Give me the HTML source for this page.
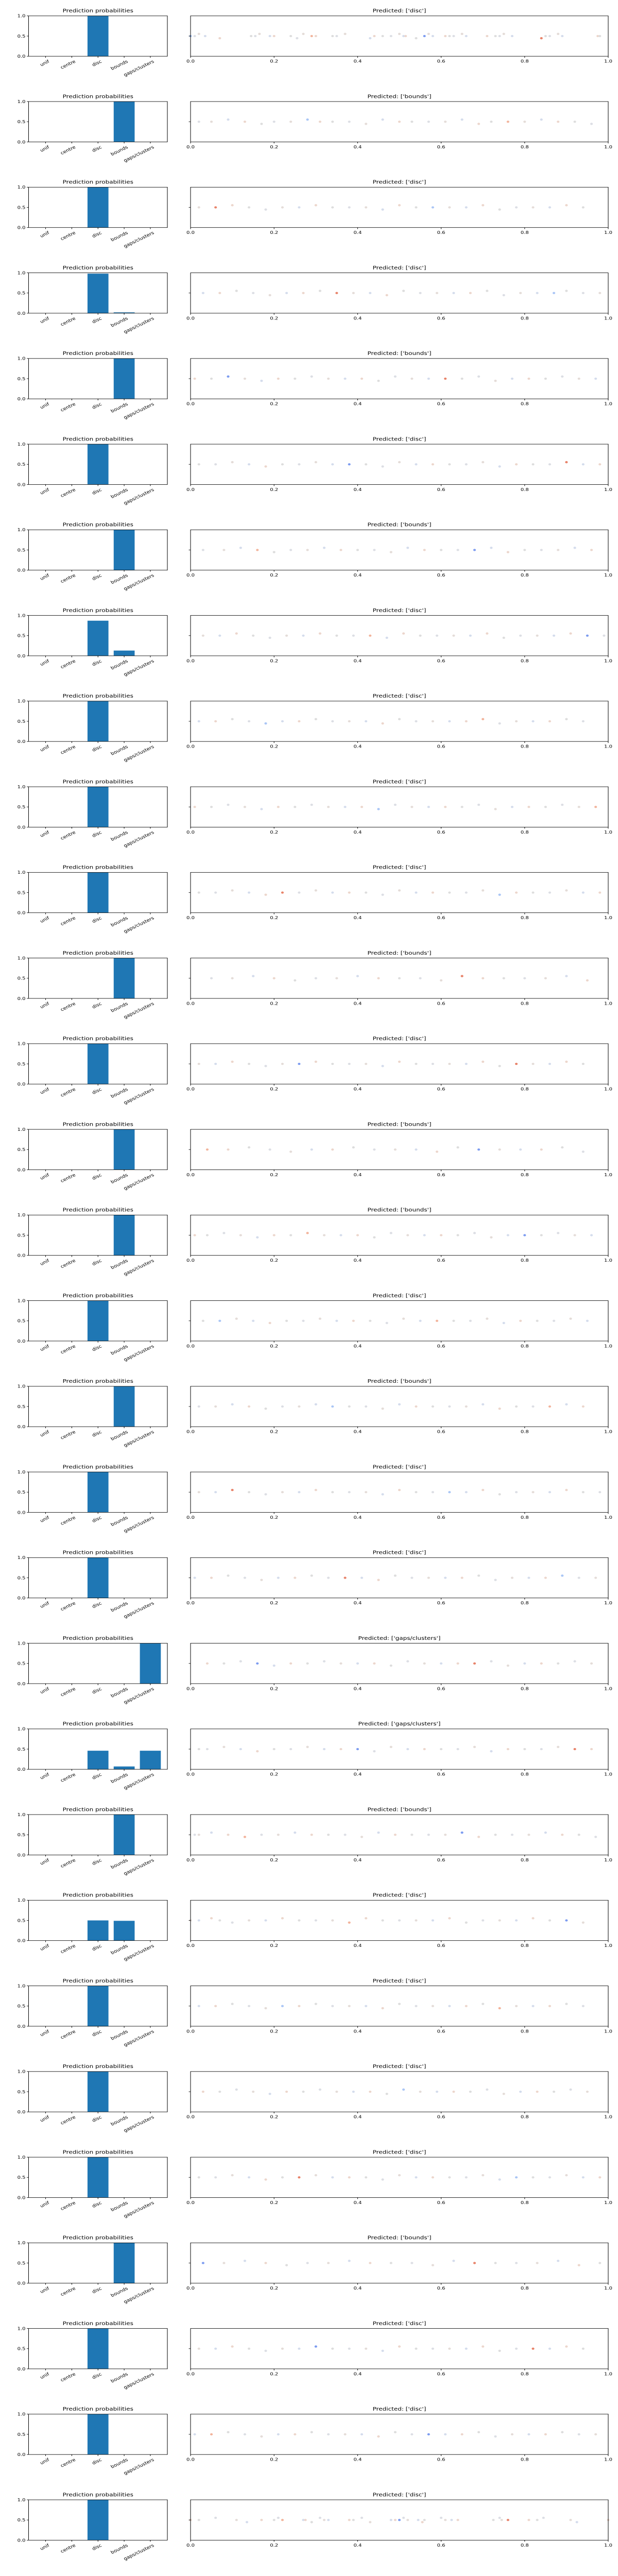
<!DOCTYPE html>
<html><head><meta charset="utf-8">
<style>
html,body{margin:0;padding:0;background:#fff;width:100%;height:100%;overflow:hidden;}
svg{display:block;position:fixed;left:0;top:0;width:100vw;height:100vh;font-family:"DejaVu Sans","Liberation Sans",sans-serif;}
</style></head>
<body>
<svg id="chart" viewBox="0 0 1200 6000" preserveAspectRatio="none" xmlns="http://www.w3.org/2000/svg"></svg>
<script>
const categories = ["unif","centre","disc","bounds","gaps/clusters"];
const predicted = ["disc","bounds","disc","disc","bounds","disc","bounds","disc","disc","disc",
  "disc","bounds","disc","bounds","bounds","disc","bounds","disc","disc","gaps/clusters",
  "gaps/clusters","bounds","disc","disc","disc","disc","bounds","disc","disc","disc"];
const probUnif   = [0,0,0,0,0,0,0,0,0,0, 0,0,0,0,0,0,0,0,0,0, 0,0,0,0,0,0,0,0,0,0];
const probCentre = [0,0,0,0,0,0,0,0,0,0, 0,0,0,0,0,0,0,0,0,0, 0,0,0,0,0,0,0,0,0,0];
const probDisc   = [1,0,1,0.98,0,1,0,0.87,1,1, 1,0,1,0,0,1,0,1,1,0, 0.46,0,0.5,1,1,1,0,1,1,1];
const probBounds = [0,1,0,0.02,1,0,1,0.13,0,0, 0,1,0,1,1,0,1,0,0,0, 0.07,1,0.49,0,0,0,1,0,0,0];
const probGaps   = [0,0,0,0,0,0,0,0,0,0, 0,0,0,0,0,0,0,0,0,1, 0.46,0,0,0,0,0,0,0,0,0];
// strip points: x values per row (approximate)
const stripX = [
 [0,0.01,0.02,0.035,0.07,0.145,0.155,0.165,0.19,0.2,0.24,0.255,0.27,0.29,0.3,0.34,0.35,0.37,0.43,0.44,0.46,0.48,0.5,0.51,0.515,0.54,0.56,0.57,0.58,0.61,0.62,0.63,0.65,0.66,0.71,0.73,0.74,0.75,0.77,0.84,0.85,0.86,0.88,0.89,0.975,0.98],
 [0.02,0.05,0.09,0.13,0.17,0.2,0.24,0.28,0.31,0.34,0.38,0.42,0.46,0.5,0.53,0.57,0.61,0.65,0.69,0.72,0.76,0.8,0.84,0.88,0.92,0.96],
 [0.02,0.06,0.1,0.14,0.18,0.22,0.26,0.3,0.34,0.38,0.42,0.46,0.5,0.54,0.58,0.62,0.66,0.7,0.74,0.78,0.82,0.86,0.9,0.94],
 [0.03,0.07,0.11,0.15,0.19,0.23,0.27,0.31,0.35,0.39,0.43,0.47,0.51,0.55,0.59,0.63,0.67,0.71,0.75,0.79,0.83,0.87,0.9,0.94,0.98],
 [0.01,0.05,0.09,0.13,0.17,0.21,0.25,0.29,0.33,0.37,0.41,0.45,0.49,0.53,0.57,0.61,0.65,0.69,0.73,0.77,0.81,0.85,0.89,0.93,0.97],
 [0.02,0.06,0.1,0.14,0.18,0.22,0.26,0.3,0.34,0.38,0.42,0.46,0.5,0.54,0.58,0.62,0.66,0.7,0.74,0.78,0.82,0.86,0.9,0.94,0.98],
 [0.03,0.08,0.12,0.16,0.2,0.24,0.28,0.32,0.36,0.4,0.44,0.48,0.52,0.56,0.6,0.64,0.68,0.72,0.76,0.8,0.84,0.88,0.92,0.96],
 [0.03,0.07,0.11,0.15,0.19,0.23,0.27,0.31,0.35,0.39,0.43,0.47,0.51,0.55,0.59,0.63,0.67,0.71,0.75,0.79,0.83,0.87,0.91,0.95,0.99],
 [0.02,0.06,0.1,0.14,0.18,0.22,0.26,0.3,0.34,0.38,0.42,0.46,0.5,0.54,0.58,0.62,0.66,0.7,0.74,0.78,0.82,0.86,0.9,0.94],
 [0.01,0.05,0.09,0.13,0.17,0.21,0.25,0.29,0.33,0.37,0.41,0.45,0.49,0.53,0.57,0.61,0.65,0.69,0.73,0.77,0.81,0.85,0.89,0.93,0.97],
 [0.02,0.06,0.1,0.14,0.18,0.22,0.26,0.3,0.34,0.38,0.42,0.46,0.5,0.54,0.58,0.62,0.66,0.7,0.74,0.78,0.82,0.86,0.9,0.94,0.98],
 [0.05,0.1,0.15,0.2,0.25,0.3,0.35,0.4,0.45,0.5,0.55,0.6,0.65,0.7,0.75,0.8,0.85,0.9,0.95],
 [0.02,0.06,0.1,0.14,0.18,0.22,0.26,0.3,0.34,0.38,0.42,0.46,0.5,0.54,0.58,0.62,0.66,0.7,0.74,0.78,0.82,0.86,0.9,0.94],
 [0.04,0.09,0.14,0.19,0.24,0.29,0.34,0.39,0.44,0.49,0.54,0.59,0.64,0.69,0.74,0.79,0.84,0.89,0.94],
 [0.01,0.04,0.08,0.12,0.16,0.2,0.24,0.28,0.32,0.36,0.4,0.44,0.48,0.52,0.56,0.6,0.64,0.68,0.72,0.76,0.8,0.84,0.88,0.92,0.96],
 [0.03,0.07,0.11,0.15,0.19,0.23,0.27,0.31,0.35,0.39,0.43,0.47,0.51,0.55,0.59,0.63,0.67,0.71,0.75,0.79,0.83,0.87,0.91,0.95],
 [0.02,0.06,0.1,0.14,0.18,0.22,0.26,0.3,0.34,0.38,0.42,0.46,0.5,0.54,0.58,0.62,0.66,0.7,0.74,0.78,0.82,0.86,0.9,0.94],
 [0.02,0.06,0.1,0.14,0.18,0.22,0.26,0.3,0.34,0.38,0.42,0.46,0.5,0.54,0.58,0.62,0.66,0.7,0.74,0.78,0.82,0.86,0.9,0.94,0.98],
 [0.01,0.05,0.09,0.13,0.17,0.21,0.25,0.29,0.33,0.37,0.41,0.45,0.49,0.53,0.57,0.61,0.65,0.69,0.73,0.77,0.81,0.85,0.89,0.93,0.97],
 [0.04,0.08,0.12,0.16,0.2,0.24,0.28,0.32,0.36,0.4,0.44,0.48,0.52,0.56,0.6,0.64,0.68,0.72,0.76,0.8,0.84,0.88,0.92,0.96],
 [0.02,0.04,0.08,0.12,0.16,0.2,0.24,0.28,0.32,0.36,0.4,0.44,0.48,0.52,0.56,0.6,0.64,0.68,0.72,0.76,0.8,0.84,0.88,0.92,0.96],
 [0.01,0.02,0.05,0.09,0.13,0.17,0.21,0.25,0.29,0.33,0.37,0.41,0.45,0.49,0.53,0.57,0.61,0.65,0.69,0.73,0.77,0.81,0.85,0.89,0.93,0.97],
 [0,0.02,0.05,0.07,0.1,0.14,0.18,0.22,0.26,0.3,0.34,0.38,0.42,0.46,0.5,0.54,0.58,0.62,0.66,0.7,0.74,0.78,0.82,0.86,0.9,0.94],
 [0.02,0.06,0.1,0.14,0.18,0.22,0.26,0.3,0.34,0.38,0.42,0.46,0.5,0.54,0.58,0.62,0.66,0.7,0.74,0.78,0.82,0.86,0.9,0.94],
 [0.03,0.07,0.11,0.15,0.19,0.23,0.27,0.31,0.35,0.39,0.43,0.47,0.51,0.55,0.59,0.63,0.67,0.71,0.75,0.79,0.83,0.87,0.91,0.95],
 [0.02,0.06,0.1,0.14,0.18,0.22,0.26,0.3,0.34,0.38,0.42,0.46,0.5,0.54,0.58,0.62,0.66,0.7,0.74,0.78,0.82,0.86,0.9,0.94,0.98],
 [0.03,0.08,0.13,0.18,0.23,0.28,0.33,0.38,0.43,0.48,0.53,0.58,0.63,0.68,0.73,0.78,0.83,0.88,0.93,0.98],
 [0.02,0.06,0.1,0.14,0.18,0.22,0.26,0.3,0.34,0.38,0.42,0.46,0.5,0.54,0.58,0.62,0.66,0.7,0.74,0.78,0.82,0.86,0.9,0.94],
 [0.01,0.05,0.09,0.13,0.17,0.21,0.25,0.29,0.33,0.37,0.41,0.45,0.49,0.53,0.57,0.61,0.65,0.69,0.73,0.77,0.81,0.85,0.89,0.93,0.97],
 [0,0.02,0.06,0.11,0.135,0.17,0.2,0.21,0.22,0.27,0.275,0.29,0.31,0.32,0.33,0.38,0.39,0.41,0.43,0.48,0.49,0.5,0.51,0.52,0.545,0.555,0.56,0.6,0.61,0.625,0.64,0.725,0.74,0.745,0.76,0.81,0.83,0.845,0.91,0.925,1.0]
];
const yTicks = [0, 0.5, 1.0];
const xTicks = [0, 0.2, 0.4, 0.6, 0.8, 1.0];
const xTickLabels = ["0.0","0.2","0.4","0.6","0.8","1.0"];
const yTickLabels = ["0.0","0.5","1.0"];

const NS = "http://www.w3.org/2000/svg";
const svg = document.getElementById('chart');
function mk(tag, attrs, parent){ const e=document.createElementNS(NS,tag); for(const k in attrs) e.setAttribute(k,attrs[k]); (parent||svg).appendChild(e); return e; }

const PITCH = 199.5, TOP0 = 37, AH = 94;
const LX0 = 55.5, LX1 = 325, RX0 = 370, RX1 = 1181;
const paleColors = ["#dddddd","#dcdee4","#e4dcd8","#d4dcec","#ecd6cc"];
const strongColors = ["#aac6f5","#f2b49c","#7d9cf0","#e8836a"];

for (let r = 0; r < predicted.length; r++) {
  const top = TOP0 + r*PITCH, bot = top + AH;
  const g = mk('g', {});
  
  
  const probs = [probUnif[r], probCentre[r], probDisc[r], probBounds[r], probGaps[r]];
  const bx = i => LX0 + (i + 0.65) / 5.3 * (LX1 - LX0);
  const by = v => bot - v * AH;
  const t1 = mk('text', {x:(LX0+LX1)/2, y:top-8, 'text-anchor':'middle', 'font-size':12}, g);
  t1.textContent = 'Prediction probabilities';
  
  
  for (let i = 0; i < 5; i++) {
    if (probs[i] <= 0) continue;
    const w = 0.8 / 5.3 * (LX1 - LX0);
    const b = mk('rect', {x:bx(i)-w/2, y:by(probs[i]), width:w, height:probs[i]*AH, fill:'#1f77b4'}, g);
    
    
  }
  const f1 = mk('rect', {x:LX0, y:top, width:LX1-LX0, height:AH, fill:'none', stroke:'#000', 'stroke-width':1}, g);
  
  
  yTicks.forEach((v, k) => {
    mk('line', {x1:LX0-3.5, x2:LX0, y1:by(v), y2:by(v), stroke:'#000'}, g);
    const tl = mk('text', {x:LX0-6, y:by(v)+3.5, 'text-anchor':'end', 'font-size':10}, g);
    tl.textContent = yTickLabels[k];
    
    
  });
  categories.forEach((c, i) => {
    mk('line', {x1:bx(i), x2:bx(i), y1:bot, y2:bot+3.5, stroke:'#000'}, g);
    const x = bx(i)+8, y = bot+14;
    const tl = mk('text', {x:x, y:y, 'text-anchor':'end', 'font-size':10, transform:`rotate(-30 ${x} ${y})`}, g);
    tl.textContent = c;
    
    
  });
  const sx = v => RX0 + v * (RX1 - RX0);
  const mid = top + AH/2;
  const t2 = mk('text', {x:(RX0+RX1)/2, y:top-8, 'text-anchor':'middle', 'font-size':12}, g);
  t2.textContent = "Predicted: ['" + predicted[r] + "']";
  
  
  const xs = stripX[r];
  xs.forEach((v, k) => {
    const dy = (k % 5 === 2) ? -5 : (k % 7 === 4 ? 5 : 0);
    const col = ((k*7 + r*3) % 13 === 0) ? strongColors[(k + r) % 4] : paleColors[(k + r) % 5];
    const d = mk('circle', {cx:sx(v), cy:mid+dy, r:2.6, fill:col}, g);
    
    
  });
  const f2 = mk('rect', {x:RX0, y:top, width:RX1-RX0, height:AH, fill:'none', stroke:'#000', 'stroke-width':1}, g);
  
  
  mk('line', {x1:RX0-3.5, x2:RX0, y1:mid, y2:mid, stroke:'#000'}, g);
  xTicks.forEach((v, k) => {
    mk('line', {x1:sx(v), x2:sx(v), y1:bot, y2:bot+3.5, stroke:'#000'}, g);
    const tl = mk('text', {x:sx(v), y:bot+15, 'text-anchor':'middle', 'font-size':10}, g);
    tl.textContent = xTickLabels[k];
    
    
  });
}
</script>
</body></html>
